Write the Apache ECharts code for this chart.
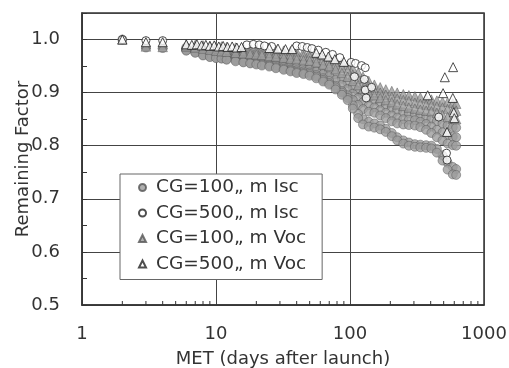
<!DOCTYPE html>
<html>
<head>
    <meta charset="utf-8">
    <script src="https://cdn.jsdelivr.net/npm/echarts@6/dist/echarts.min.js"></script>
    <style type="text/css">
        html, body { width: 100%; height: 100%; margin: 0; background: #fff; }
        #chart { width: 509px; height: 368px; }
    </style>
</head>
<body>
<div id="chart"></div>
<script type="text/javascript">
    // days after launch (shared by the dense CG=100 tracks)
    var days = [2, 3, 4, 6, 7, 8, 9, 10, 11, 12, 14, 16, 18, 20, 22, 25, 28, 32, 36, 40, 45, 50, 56, 63, 70, 78, 87, 96,
        105, 115, 125, 138, 152, 168, 185, 205, 225, 250, 275, 305, 335, 370, 405, 445, 490, 535, 585, 620];

    // CG=100 Voc, read track by track from the band
    var voc100a = [1.0, .991, .991, .990, .990, .989, .988, .987, .987, .986, .985, .984, .983, .982, .982, .981, .980, .979, .978, .977, .976, .975, .973, .970, .968, .963, .957, .952,
        .945, .938, .930, .922, .915, .910, .906, .903, .900, .897, .895, .893, .891, .889, .887, .885, .883, .882, .880, .879];
    var voc100b = [null, .987, .986, .988, .987, .986, .985, .983, .982, .981, .980, .979, .978, .977, .976, .975, .974, .973, .972, .970, .969, .968, .965, .962, .959, .953, .947, .941,
        .934, .926, .919, .912, .905, .900, .896, .892, .889, .886, .884, .881, .879, .877, .876, .874, .872, .869, .867, .866];
    var voc100c = [null, null, null, .987, .985, .983, .981, .979, .978, .977, .975, .974, .973, .972, .971, .969, .968, .966, .964, .963, .961, .960, .957, .953, .950, .944, .937, .930,
        .922, .914, .907, .900, .895, .890, .886, .882, .878, .875, .872, .870, .868, .866, .865, .862, .858, .854, .851, .850];

    // CG=100 Isc tracks
    var isc100a = [1.0, .985, .984, .985, .983, .980, .978, .976, .974, .973, .971, .969, .968, .967, .965, .963, .962, .959, .957, .955, .954, .953, .949, .944, .940, .934, .926, .918,
        .910, .903, .896, .890, .885, .880, .875, .870, .866, .863, .861, .858, .855, .852, .850, .846, .842, .838, .835, .834];
    var isc100b = [null, null, null, .983, .980, .977, .974, .972, .970, .968, .966, .964, .963, .962, .960, .958, .956, .953, .950, .948, .946, .945, .940, .935, .931, .924, .915, .907,
        .898, .890, .882, .876, .872, .867, .862, .857, .853, .850, .849, .848, .845, .841, .836, .830, .825, .820, .817, .816];
    var isc100c = [null, null, null, .982, .978, .974, .971, .968, .966, .965, .963, .960, .958, .957, .955, .953, .951, .948, .944, .942, .940, .938, .933, .927, .922, .913, .903, .895,
        .886, .877, .869, .864, .862, .857, .852, .846, .842, .840, .839, .838, .835, .830, .824, .816, .810, .804, .801, .800];
    var isc100d = [null, null, null, .980, .976, .971, .968, .966, .965, .963, .961, .958, .956, .955, .953, .951, .948, .945, .942, .939, .937, .935, .930, .924, .918, .910, .900, .890,
        .876, .860, .850, .845, .842, .838, .832, .824, .816, .810, .806, .803, .802, .801, .800, .794, .782, .768, .760, .756];
    var isc100e = [null, null, null, .979, .975, .970, .967, .965, .964, .962, .959, .957, .955, .953, .951, .949, .946, .943, .940, .937, .935, .932, .927, .921, .915, .906, .896, .886,
        .870, .852, .840, .836, .834, .831, .826, .818, .810, .804, .800, .798, .797, .796, .795, .787, .772, .755, .746, .745];

    // CG=500 points (open markers)
    var isc500 = [[2, 1.0], [3, .998], [4, .998], [17, .990], [19, .991], [21, .990], [23, .988], [26, .987], [40, .988], [44, .987],
        [48, .985], [52, .983], [58, .980], [66, .976], [74, .972], [84, .966], [102, .957], [110, .955], [122, .951], [130, .947],
        [108, .930], [128, .925], [130, .905], [132, .890], [145, .910], [460, .854], [525, .786], [530, .773]];
    var voc500 = [[2, 1.0], [3, .995], [4, .995], [6, .991], [6.6, .990], [7.2, .991], [7.8, .989], [8.4, .990], [9, .988], [9.7, .989],
        [10.5, .987], [11.3, .988], [12.2, .986], [13.2, .987], [14.3, .985], [15.5, .986], [25, .984], [29, .983], [33, .982], [37, .982],
        [56, .975], [62, .972], [69, .968], [77, .963], [90, .958], [380, .895], [495, .899], [510, .929], [588, .948], [585, .890],
        [595, .863], [600, .852], [530, .826]];

    // log minor tick positions on the x axis
    var xMinor = [2, 3, 4, 5, 6, 7, 8, 9, 20, 30, 40, 50, 60, 70, 80, 90, 200, 300, 400, 500, 600, 700, 800, 900];

    var names = ['CG=100\u201E m Isc', 'CG=500\u201E m Isc', 'CG=100\u201E m Voc', 'CG=500\u201E m Voc'];

    function pairs(vals) {
        return days.map(function (d, i) { return [d, vals[i]]; }).filter(function (p) { return p[1] != null; });
    }

    var font = 'DejaVu Sans, sans-serif';
    var grey = { color: '#9c9c9c', borderColor: '#555', borderWidth: 0.6 };
    var open = { color: '#fff', borderColor: '#222', borderWidth: 1 };

    var greyIsc = [isc100a, isc100b, isc100c, isc100d, isc100e];
    var greyVoc = [voc100a, voc100b, voc100c];

    var series = [];
    greyIsc.forEach(function (t) {
        series.push({ name: names[0], type: 'scatter', symbol: 'circle', symbolSize: 9, itemStyle: grey, data: pairs(t) });
    });
    greyVoc.forEach(function (t) {
        series.push({ name: names[2], type: 'scatter', symbol: 'triangle', symbolSize: 9.5, itemStyle: grey, data: pairs(t) });
    });
    series.push({ name: names[1], type: 'scatter', symbol: 'circle', symbolSize: 8, itemStyle: open, data: isc500 });
    series.push({ name: names[3], type: 'scatter', symbol: 'triangle', symbolSize: 9, itemStyle: open, data: voc500 });
    series.push({
        type: 'custom', silent: true, z: 5,
        data: xMinor,
        renderItem: function (params, api) {
            var p = api.coord([api.value(0), 0.5]);
            return { type: 'line', shape: { x1: p[0], y1: p[1], x2: p[0], y2: p[1] - 4 }, style: { stroke: '#333', lineWidth: 1 } };
        }
    });

    var myChart = echarts.init(document.getElementById('chart'));
    myChart.setOption({
        animation: false,
        backgroundColor: '#fff',
        grid: {
            left: 82, right: 25, top: 13, bottom: 63, containLabel: false, outerBoundsMode: 'none',
            show: true, borderColor: '#333', borderWidth: 1.5
        },
        legend: {
            data: names,
            orient: 'vertical',
            left: 120, top: 174,
            backgroundColor: '#fff',
            borderColor: '#666', borderWidth: 1,
            padding: [4, 16, 6, 18],
            itemWidth: 7, itemHeight: 7, itemGap: 6.5,
            textStyle: { fontFamily: font, fontSize: 18.5, color: '#333', padding: [0, 0, 0, 5] }
        },
        xAxis: {
            type: 'log', logBase: 10, min: 1, max: 1000,
            name: 'MET (days after launch)', nameLocation: 'middle', nameGap: 45, nameMoveOverlap: false,
            nameTextStyle: { fontFamily: font, fontSize: 18, color: '#333' },
            axisLine: { lineStyle: { color: '#333', width: 1.5 } },
            axisTick: { show: false },
            axisLabel: { fontFamily: font, fontSize: 18, color: '#333', margin: 20, formatter: function (v) { return String(v); } },
            splitLine: { show: true, lineStyle: { color: '#444', width: 1 } }
        },
        yAxis: {
            type: 'value', min: 0.5, max: 1.05, interval: 0.1,
            name: 'Remaining Factor', nameLocation: 'middle', nameGap: 50, nameMoveOverlap: false,
            nameTextStyle: { fontFamily: font, fontSize: 18, color: '#333' },
            axisLine: { show: true, lineStyle: { color: '#333', width: 1.5 } },
            axisTick: { show: true, inside: true, length: 5, lineStyle: { color: '#333' } },
            minorTick: { show: true, splitNumber: 2, length: 5, lineStyle: { color: '#333' } },
            axisLabel: {
                fontFamily: font, fontSize: 18, color: '#333', margin: 22, showMaxLabel: false,
                formatter: function (v) { return v.toFixed(1); }
            },
            splitLine: { show: true, lineStyle: { color: '#444', width: 1 } }
        },
        series: series
    });
</script>
</body>
</html>
